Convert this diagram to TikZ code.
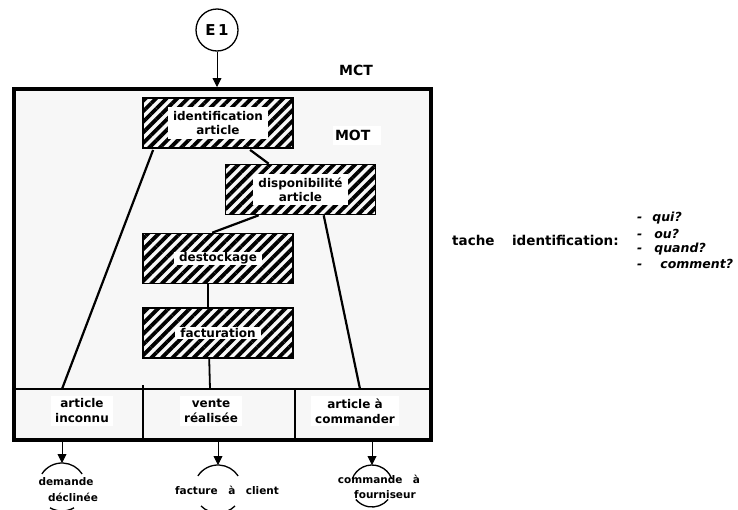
\documentclass[tikz,border=0pt]{standalone}
\usepackage{fontspec}
\setmainfont{DejaVu Sans}
\usetikzlibrary{arrows.meta,patterns.meta,calc}
\definecolor{framebg}{RGB}{247,247,247}
\begin{document}
\begin{tikzpicture}[x=1pt,y=-1pt,
  hbox/.style={draw=black,line width=1.6pt,minimum width=150pt,minimum height=50pt,
    pattern={Lines[angle=45,distance=7.5pt,line width=3.8pt]}},
  lbl/.style={fill=white,inner xsep=5pt,inner ysep=3pt,font=\bfseries\fontsize{12}{14}\selectfont,align=center},
  cell/.style={fill=white,inner xsep=4pt,inner ysep=3pt,font=\bfseries\fontsize{12}{15}\selectfont,align=center},
  conn/.style={line width=2.2pt},
  arr/.style={line width=0.9pt,-{Triangle[width=9pt,length=9pt]}},
  ring/.style={line width=1.3pt},
  otxt/.style={inner sep=0pt,font=\bfseries\fontsize{10.5}{11}\selectfont},
  side/.style={font=\bfseries\fontsize{13.5}{15}\selectfont,inner sep=0pt},
  item/.style={font=\bfseries\itshape\fontsize{12.5}{14}\selectfont,inner sep=0pt,anchor=west},
]
\useasboundingbox (0,0) rectangle (738,509);

% frame
\node[draw,line width=4pt,fill=framebg,minimum width=417pt,minimum height=351pt,inner sep=0pt] (frame) at (222.5,264.5) {};
\coordinate (bl) at (14,389);
\coordinate (br) at (431,389);
\draw[line width=2pt] (bl) -- (br);
\coordinate (d1t) at (143,385);
\coordinate (d1b) at (143,440);
\coordinate (d2t) at (295,389);
\coordinate (d2b) at (295,440);
\draw[line width=2pt] (d1t) -- (d1b);
\draw[line width=2pt] (d2t) -- (d2b);

% labels MCT / MOT
\node[font=\bfseries\fontsize{14}{14}\selectfont,inner sep=0pt] (mct) at (356,70) {MCT};
\node[fill=white,font=\bfseries\fontsize{14}{14}\selectfont,minimum width=48pt,minimum height=19pt,inner sep=0pt,text width=44pt,align=left] (mot) at (357,135) {MOT};

% E1
\node[circle,draw,line width=1.3pt,minimum size=42pt,inner sep=0pt,font=\bfseries\fontsize{15}{15}\selectfont] (e1) at (217,30) {E\,1};
\draw[arr] (e1.south) -- (e1.south |- frame.north);

% task boxes
\node[hbox] (id) at (218,123) {};
\node[lbl,inner ysep=4pt] at (id) {identification\\article};
\node[hbox] (dispo) at (300.5,189.5) {};
\node[lbl,inner ysep=4pt] at (dispo) {disponibilité\\article};
\node[hbox] (dest) at (218,258.5) {};
\node[lbl,inner ysep=1pt] at (dest) {destockage};
\node[hbox] (fact) at (218,333) {};
\node[lbl,inner ysep=1pt] at (fact) {facturation};

% connectors
\coordinate (e1end) at (62,389);
\coordinate (e3end) at (360,389);
\coordinate (e2end) at (210,389);
\draw[conn] ($(id.south west)+(12,0)$) -- (e1end);
\draw[conn] ($(id.south west)+(109,0)$) -- ($(dispo.north west)+(44,0)$);
\draw[conn] ($(dispo.south west)+(34,0)$) -- ($(dest.north west)+(70,0)$);
\draw[conn] ($(dispo.south west)+(99,0)$) -- (e3end);
\draw[line width=1.8pt] ($(dest.south west)+(66,0)$) -- ($(fact.north west)+(66,0)$);
\draw[line width=1.8pt] ($(fact.south west)+(67,0)$) -- (e2end);

% bottom cells
\node[cell] (c1) at (82,411) {article\\inconnu};
\node[cell] (c2) at (211,411) {vente\\réalisée};
\node[cell] (c3) at (355,411) {article à\\commander};

% output "circles" (open arcs around the text)
\coordinate (o1) at (62,487);
\coordinate (o2) at (218,489);
\coordinate (o3) at (372,486);
\draw[ring] (o1) ++(213:24) arc[start angle=213,end angle=327,radius=24];
\draw[ring] (o1) ++(60:24) arc[start angle=60,end angle=120,radius=24];
\draw[ring] (o2) ++(213:24) arc[start angle=213,end angle=327,radius=24];
\draw[ring] (o2) ++(45:24) arc[start angle=45,end angle=135,radius=24];
\draw[ring] (o3) ++(200:21) arc[start angle=200,end angle=340,radius=21];
\draw[ring] (o3) ++(40:21) arc[start angle=40,end angle=140,radius=21];
\coordinate (a1) at (o1 |- frame.south);
\coordinate (a2) at (o2 |- frame.south);
\coordinate (a3) at (o3 |- frame.south);
\draw[arr] (a1) -- ($(o1)+(0,-24)$);
\draw[arr] (a2) -- ($(o2)+(0,-24)$);
\draw[arr] (a3) -- ($(o3)+(0,-21)$);
\node[otxt] (t1a) at (66,482) {demande};
\node[otxt] (t1b) at (73,497) {déclinée};
\node[otxt] (t2) at (227,490) {facture\hspace{1em}à\hspace{1em}client};
\node[otxt] (t3a) at (379,479) {commande\hspace{1em}à};
\node[otxt] (t3b) at (385,495) {fourniseur};

% side text
\node[side,anchor=west] (tache) at (452,240) {tache\hspace{1.3em}identification:};
\node[item] (q1) at (637,218) {-\hspace{10pt}qui?};
\node[item] (q2) at (637,234) {-\hspace{12pt}ou?};
\node[item] (q3) at (637,249) {-\hspace{12pt}quand?};
\node[item] (q4) at (637,264) {-\hspace{18pt}comment?};
\end{tikzpicture}
\end{document}
